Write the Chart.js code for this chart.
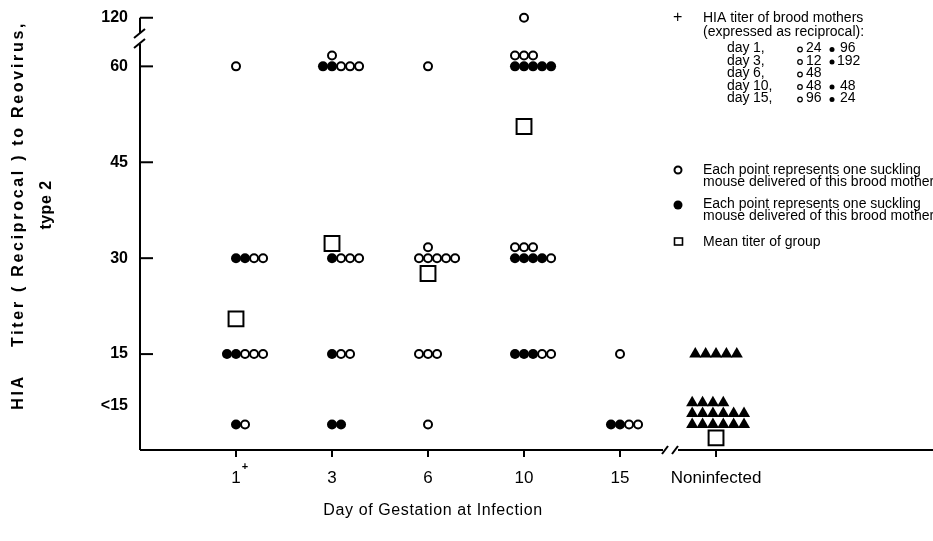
<!DOCTYPE html>
<html>
<head>
<meta charset="utf-8">
<script src="https://cdn.jsdelivr.net/npm/chart.js@4"></script>
<style>
  html, body { margin: 0; background: #fff; overflow: hidden; }
  #wrap { position: relative; width: 933px; height: 541px; }
  canvas { display: block; }
</style>
</head>
<body>
<div id="wrap"><canvas id="titerChart"></canvas></div>
<script>
// Day of gestation at infection (x categories)
const days = ['1', '3', '6', '10', '15', 'Noninfected'];

// broken y axis: 120 sits just above 60, "<15" below 15
const titerTicks = [7, 15, 30, 45, 60, 67.6];
const titerLabels = ['<15', '15', '30', '45', '60', '120'];
const LOW = '<15';

// clusters of suckling mice: day index, titer, stacked tier, filled, open
const mouseRows = [
    [1, 60, 0, 0, 1],
    [1, 30, 0, 2, 2],
    [1, 15, 0, 2, 3],
    [1, LOW, 0, 1, 1],
    [2, 60, 0, 2, 3],
    [2, 60, 1, 0, 1],
    [2, 30, 0, 1, 3],
    [2, 15, 0, 1, 2],
    [2, LOW, 0, 2, 0],
    [3, 60, 0, 0, 1],
    [3, 30, 0, 0, 5],
    [3, 30, 1, 0, 1],
    [3, 15, 0, 0, 3],
    [3, LOW, 0, 0, 1],
    [4, 120, 0, 0, 1],
    [4, 60, 0, 5, 0],
    [4, 60, 1, 0, 3],
    [4, 30, 0, 4, 1],
    [4, 30, 1, 0, 3],
    [4, 15, 0, 3, 2],
    [5, 15, 0, 0, 1],
    [5, LOW, 0, 2, 2]
];
// dots of each cluster that sit left of the day tick
const rowLead = [0, 0, 1, 0, 1, 0, 0, 0, 0, 0, 1, 0, 1, 0, 0, 1, 1, 1, 1, 1, 0, 1];

// noninfected controls (triangles): titer, tier, count
const controlRows = [[15, 0, 5], [LOW, 0, 6], [LOW, 1, 6], [LOW, 2, 4]];
const controlLead = [2, 2.3, 2.3, 2.3];

// mean titer of each group, none drawn for day 15
const meanTiter = [20.5, 32.3, 27.6, 50.6, null, 1.9];

// brood mothers' titers listed in the key
const motherDays = ['1,', '3,', '6,', '10,', '15,'];
const motherOpen = ['24', '12', '48', '48', '96'];
const motherFilled = ['96', '192', '', '48', '24'];

const FONT = '"Liberation Sans", Arial, sans-serif';
const DOT = 0.094, TRI = 0.108, TIER = 1.7;

function level(t) {
    if (t === LOW) return 4;
    if (t === 120) return 67.6;
    return t;
}

const openPts = [], filledPts = [], triPts = [];
mouseRows.forEach(([day, titer, tier, filled, open], i) => {
    const y = level(titer) + tier * TIER;
    for (let k = 0; k < filled + open; k++) {
        const pt = { x: day + (k - rowLead[i]) * DOT, y: y };
        (k < filled ? filledPts : openPts).push(pt);
    }
});
controlRows.forEach(([titer, tier, n], i) => {
    for (let k = 0; k < n; k++) {
        triPts.push({ x: 6 + (k - controlLead[i]) * TRI, y: level(titer) + tier * TIER });
    }
});
const meanPts = [];
meanTiter.forEach((m, i) => { if (m !== null) meanPts.push({ x: i + 1, y: m }); });

// axis lines with breaks, inward/outward tick marks, titles and key
const axisArt = {
    id: 'axisArt',
    afterDraw(chart) {
        const ctx = chart.ctx;
        const xs = chart.scales.x, ys = chart.scales.y;
        const left = xs.left, bottom = ys.bottom;
        ctx.save();
        ctx.strokeStyle = '#000';
        ctx.fillStyle = '#000';
        ctx.lineWidth = 2;
        ctx.lineCap = 'butt';

        const line = (x1, y1, x2, y2) => {
            ctx.beginPath(); ctx.moveTo(x1, y1); ctx.lineTo(x2, y2); ctx.stroke();
        };

        // y axis, broken between 60 and 120
        const top = ys.getPixelForValue(67.6);
        line(left, bottom, left, 44);
        line(left, 33, left, top);
        line(left - 6, 48, left + 5, 39);
        line(left - 6, 38, left + 5, 29);
        titerTicks.forEach(v => {
            if (v === 7) return;
            const y = ys.getPixelForValue(v);
            line(left, y, left + 13, y);
        });

        // x axis, broken before the controls
        line(left, bottom, 663, bottom);
        line(678, bottom, chart.width, bottom);
        line(662, bottom + 4, 668, bottom - 4);
        line(672, bottom + 4, 678, bottom - 4);
        days.forEach((d, i) => {
            const x = xs.getPixelForValue(i + 1);
            line(x, bottom, x, bottom + 7);
        });

        // superscript cross on day 1
        ctx.font = 'bold 11px ' + FONT;
        ctx.textAlign = 'center';
        ctx.textBaseline = 'middle';
        ctx.fillText('+', xs.getPixelForValue(1) + 9, 467);

        // x title
        ctx.font = '16px ' + FONT;
        ctx.letterSpacing = '0.6px';
        ctx.fillText('Day of Gestation at Infection', 433, 511);

        // y title, rotated
        ctx.font = 'bold 16px ' + FONT;
        ctx.letterSpacing = '2.7px';
        ctx.save();
        ctx.translate(19, 392); ctx.rotate(-Math.PI / 2);
        ctx.textAlign = 'center';
        ctx.fillText('HIA', 0, 0);
        ctx.restore();
        ctx.save();
        ctx.translate(19, 347); ctx.rotate(-Math.PI / 2);
        ctx.textAlign = 'left';
        ctx.fillText('Titer ( Reciprocal ) to Reovirus,', 0, 0);
        ctx.restore();
        ctx.letterSpacing = '0.5px';
        ctx.save();
        ctx.translate(47, 205); ctx.rotate(-Math.PI / 2);
        ctx.textAlign = 'center';
        ctx.fillText('type 2', 0, 0);
        ctx.restore();
        ctx.letterSpacing = '0px';

        // key: brood mothers
        ctx.textAlign = 'left';
        ctx.font = '16px ' + FONT;
        ctx.fillText('+', 673, 18);
        ctx.font = '14px ' + FONT;
        ctx.fillText('HIA titer of brood mothers', 703, 18);
        ctx.fillText('(expressed as reciprocal):', 703, 32);
        ctx.lineWidth = 1.2;
        motherDays.forEach((d, i) => {
            const y = 48.5 + i * 12.5;
            ctx.fillText('day', 727, y);
            ctx.fillText(d, 753, y);
            ctx.beginPath(); ctx.arc(800, y + 1, 2.3, 0, Math.PI * 2); ctx.stroke();
            ctx.fillText(motherOpen[i], 806, y);
            if (motherFilled[i]) {
                ctx.beginPath(); ctx.arc(832, y + 1, 2.5, 0, Math.PI * 2); ctx.fill();
                ctx.fillText(motherFilled[i], motherFilled[i].length > 2 ? 837 : 840, y);
            }
        });

        // key: symbols
        ctx.lineWidth = 2;
        ctx.beginPath(); ctx.arc(678, 170, 3.5, 0, Math.PI * 2); ctx.stroke();
        ctx.fillText('Each point represents one suckling', 703, 170);
        ctx.fillText('mouse delivered of this brood mother', 703, 182);
        ctx.beginPath(); ctx.arc(678, 205, 4.5, 0, Math.PI * 2); ctx.fill();
        ctx.fillText('Each point represents one suckling', 703, 204);
        ctx.fillText('mouse delivered of this brood mother', 703, 216);
        ctx.lineWidth = 1.6;
        ctx.strokeRect(674.5, 238, 8, 7);
        ctx.fillText('Mean titer of group', 703, 242);
        ctx.restore();
    }
};

new Chart(document.getElementById('titerChart'), {
    type: 'scatter',
    data: {
        datasets: [
            {
                label: 'Mean titer of group',
                data: meanPts,
                pointStyle: 'rect',
                pointRadius: 10.5,
                borderWidth: 2,
                borderColor: '#000',
                backgroundColor: '#fff'
            },
            {
                label: 'Open',
                data: openPts,
                pointStyle: 'circle',
                pointRadius: 4,
                borderWidth: 2,
                borderColor: '#000',
                backgroundColor: '#fff'
            },
            {
                label: 'Filled',
                data: filledPts,
                pointStyle: 'circle',
                pointRadius: 5,
                borderWidth: 0,
                borderColor: '#000',
                backgroundColor: '#000'
            },
            {
                label: 'Noninfected',
                data: triPts,
                pointStyle: 'triangle',
                pointRadius: 7,
                borderWidth: 0,
                borderColor: '#000',
                backgroundColor: '#000'
            }
        ]
    },
    options: {
        responsive: true,
        maintainAspectRatio: false,
        animation: false,
        clip: false,
        layout: { autoPadding: false, padding: { top: 12, left: 0, right: 0, bottom: 0 } },
        plugins: {
            legend: { display: false },
            tooltip: { enabled: false }
        },
        scales: {
            x: {
                type: 'linear',
                min: 0,
                max: 8.26,
                grid: { display: false, drawTicks: false },
                border: { display: false },
                afterBuildTicks: s => { s.ticks = days.map((d, i) => ({ value: i + 1 })); },
                afterFit: s => { s.height = 91; s.paddingLeft = 0; s.paddingRight = 0; },
                ticks: {
                    autoSkip: false,
                    maxRotation: 0,
                    padding: 18,
                    color: '#000',
                    font: { family: FONT, size: 17 },
                    callback: (v, i) => days[i]
                }
            },
            y: {
                min: 0,
                max: 68.5,
                grid: { display: false, drawTicks: false },
                border: { display: false },
                afterBuildTicks: s => { s.ticks = titerTicks.map(v => ({ value: v })); },
                afterFit: s => { s.width = 140; s.paddingTop = 0; s.paddingBottom = 0; },
                ticks: {
                    autoSkip: false,
                    padding: 12,
                    color: '#000',
                    font: { family: FONT, size: 16, weight: 'bold' },
                    callback: (v, i) => titerLabels[i]
                }
            }
        }
    },
    plugins: [axisArt]
});
</script>
</body>
</html>
